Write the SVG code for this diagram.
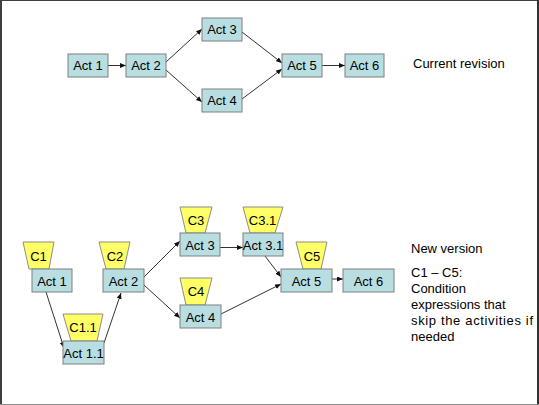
<svg xmlns="http://www.w3.org/2000/svg" width="539" height="405" viewBox="0 0 539 405">
<style>
text{font-family:"Liberation Sans",Arial,sans-serif;font-size:13px;fill:#000}
.box{fill:#B8DEE2;stroke:#7F7F7F;stroke-width:1}
.cond{fill:#FFFF66;stroke:#8C8C8C;stroke-width:1}
.lbl{text-anchor:middle}
.conn line{stroke:#333;stroke-width:1;marker-end:url(#ah)}
</style>
<defs>
<marker id="ah" markerUnits="userSpaceOnUse" markerWidth="7" markerHeight="6" refX="6" refY="2.5" orient="auto">
<path d="M0,0 L6,2.5 L0,5 z" fill="#111"/>
</marker>
</defs>
<rect x="0" y="0" width="539" height="405" fill="#fff"/>
<line x1="0" y1="0.5" x2="539" y2="0.5" stroke="#404040" stroke-width="1"/>
<line x1="1" y1="0" x2="1" y2="405" stroke="#404040" stroke-width="2"/>
<line x1="538" y1="0" x2="538" y2="405" stroke="#303030" stroke-width="2"/>
<line x1="0" y1="404.5" x2="539" y2="404.5" stroke="#8A8A8A" stroke-width="1"/>

<g id="connectors" class="conn">
<line x1="108" y1="65.5" x2="126" y2="65.5"/>
<line x1="166" y1="62" x2="202" y2="29"/>
<line x1="166" y1="70" x2="202" y2="102"/>
<line x1="242" y1="32" x2="282" y2="63"/>
<line x1="242" y1="99" x2="282" y2="69"/>
<line x1="322" y1="65.5" x2="345" y2="65.5"/>

<line x1="46" y1="292" x2="64" y2="348"/>
<line x1="104" y1="343" x2="121" y2="293"/>
<line x1="144" y1="277" x2="180" y2="241"/>
<line x1="144" y1="285" x2="180" y2="318"/>
<line x1="220" y1="247.5" x2="243" y2="247.5"/>
<line x1="265" y1="256" x2="281" y2="277"/>
<line x1="221" y1="314" x2="281" y2="284"/>
<line x1="332" y1="279" x2="343" y2="279"/>
</g>

<g id="top-act1"><rect class="box" x="68" y="54" width="40" height="23"/><text class="lbl" x="88" y="70">Act 1</text></g>
<g id="top-act2"><rect class="box" x="126" y="54" width="40" height="23"/><text class="lbl" x="146" y="70">Act 2</text></g>
<g id="top-act3"><rect class="box" x="202" y="18" width="40" height="23"/><text class="lbl" x="222" y="34">Act 3</text></g>
<g id="top-act4"><rect class="box" x="202" y="89" width="40" height="23"/><text class="lbl" x="222" y="105">Act 4</text></g>
<g id="top-act5"><rect class="box" x="282" y="54" width="40" height="23"/><text class="lbl" x="302" y="70">Act 5</text></g>
<g id="top-act6"><rect class="box" x="345" y="54" width="39" height="23"/><text class="lbl" x="364.5" y="70">Act 6</text></g>
<g id="label-current"><text x="413" y="68">Current revision</text></g>

<g id="new-c1"><polygon class="cond" points="23,242 54,242 49,269 29,269"/><text class="lbl" x="38.5" y="261">C1</text></g>
<g id="new-act1"><rect class="box" x="32" y="269" width="40" height="23"/><text class="lbl" x="52" y="285.5">Act 1</text></g>
<g id="new-c2"><polygon class="cond" points="99,242 130,242 124,269 106,269"/><text class="lbl" x="115" y="261">C2</text></g>
<g id="new-act2"><rect class="box" x="103" y="269" width="41" height="23"/><text class="lbl" x="123.5" y="285.5">Act 2</text></g>
<g id="new-c11"><polygon class="cond" points="63,314 103,314 97,341 71,341"/><text class="lbl" x="83" y="332">C1.1</text></g>
<g id="new-act11"><rect class="box" x="63" y="341" width="41" height="23"/><text class="lbl" x="83.5" y="357.5">Act 1.1</text></g>
<g id="new-c3"><polygon class="cond" points="180,207 212,207 205,233 186,233"/><text class="lbl" x="196" y="225">C3</text></g>
<g id="new-act3"><rect class="box" x="180" y="233" width="40" height="23"/><text class="lbl" x="200" y="249.5">Act 3</text></g>
<g id="new-c31"><polygon class="cond" points="243,207 283,207 275,233 250,233"/><text class="lbl" x="262.5" y="225">C3.1</text></g>
<g id="new-act31"><rect class="box" x="243" y="233" width="40" height="23"/><text class="lbl" x="263" y="249.5">Act 3.1</text></g>
<g id="new-c4"><polygon class="cond" points="180,278 212,278 205,305 186,305"/><text class="lbl" x="196" y="296">C4</text></g>
<g id="new-act4"><rect class="box" x="180" y="305" width="41" height="23"/><text class="lbl" x="200.5" y="321.5">Act 4</text></g>
<g id="new-c5"><polygon class="cond" points="296,242 327,242 321,269 303,269"/><text class="lbl" x="312" y="261">C5</text></g>
<g id="new-act5"><rect class="box" x="281" y="269" width="51" height="23"/><text class="lbl" x="306.5" y="285.5">Act 5</text></g>
<g id="new-act6"><rect class="box" x="343" y="269" width="51" height="23"/><text class="lbl" x="368.5" y="285.5">Act 6</text></g>

<g id="label-new">
<text x="411" y="253">New version</text>
<text x="411" y="277">C1 – C5:</text>
<text x="411" y="293">Condition</text>
<text x="411" y="309">expressions that</text>
<text x="411" y="325" textLength="122" lengthAdjust="spacing">skip the activities if</text>
<text x="411" y="341">needed</text>
</g>
</svg>
